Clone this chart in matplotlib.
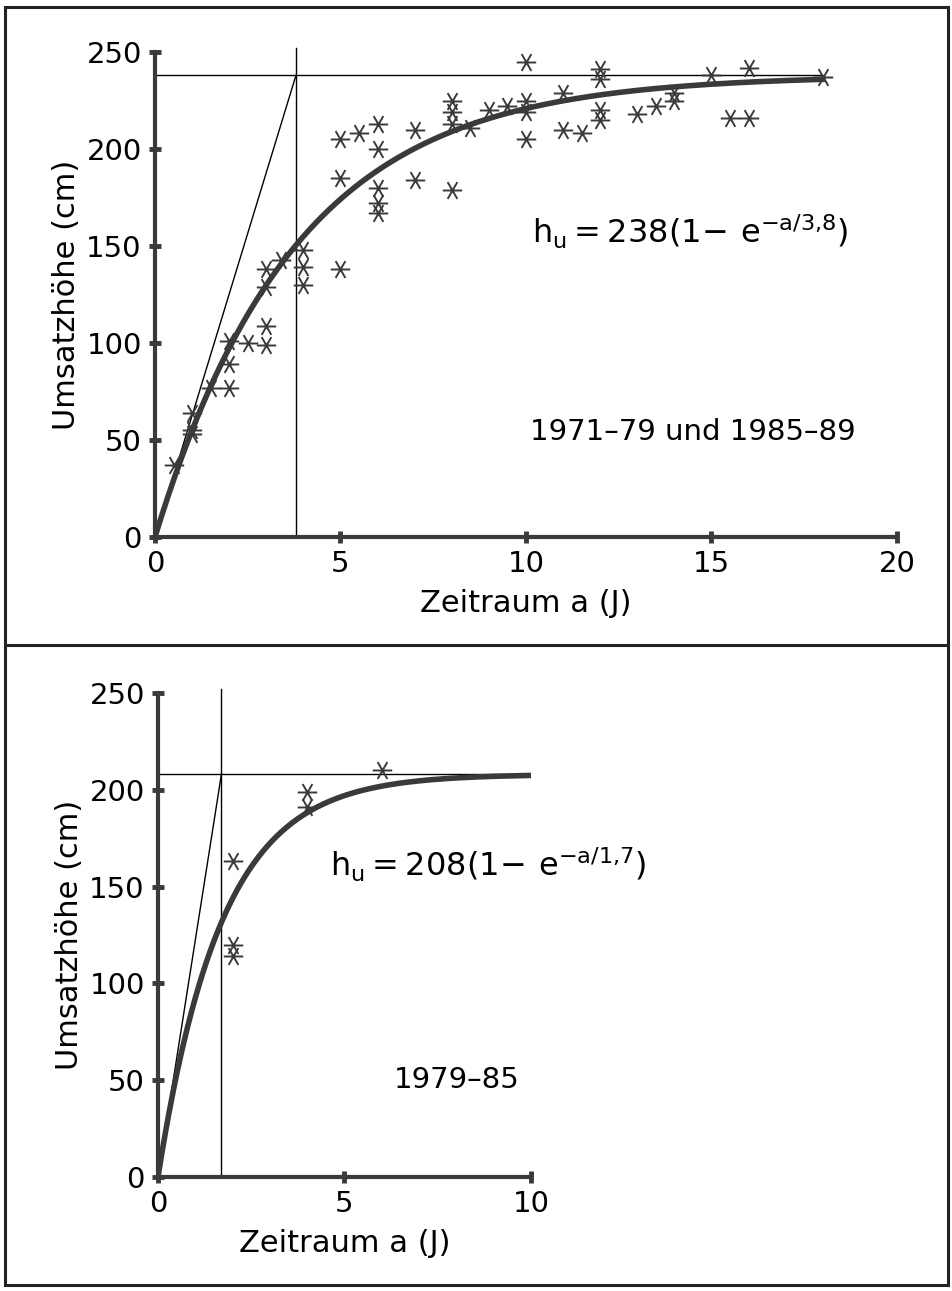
import numpy as np
import matplotlib.pyplot as plt
from matplotlib.lines import Line2D
from matplotlib.path import Path

# top panel: 1971-79 and 1985-89
a_top = [0.5, 1, 1, 1, 1.5, 2, 2, 2, 2.5, 3, 3, 3, 3, 3.4, 4, 4, 4, 5, 5, 5,
         5.5, 6, 6, 6, 6, 6, 7, 7, 8, 8, 8, 8, 8.5, 9, 9.5, 10, 10, 10, 10,
         11, 11, 11.5, 12, 12, 12, 12, 13, 13.5, 14, 14, 15, 15.5, 16, 16, 18]
h_top = [37, 53, 64, 55, 77, 77, 89, 101, 100, 99, 109, 129, 138, 143, 148, 139, 130, 138, 185, 205,
         208, 213, 200, 180, 172, 167, 210, 184, 179, 225, 219, 213, 211, 220, 222, 245, 225, 219, 205,
         229, 210, 208, 241, 236, 220, 215, 218, 222, 225, 229, 238, 216, 242, 216, 237]
hmax_top, tau_top, amax_top = 238, 3.8, 18

# bottom panel: 1979-85
a_bot = [2, 2, 2, 4, 4, 6]
h_bot = [163, 120, 114, 199, 191, 210]
hmax_bot, tau_bot, amax_bot = 208, 1.7, 10

plt.rcParams['font.family'] = 'DejaVu Sans'
plt.rcParams['mathtext.fontset'] = 'dejavusans'

fig = plt.figure(figsize=(9.53, 12.91), dpi=100)
W, H = 953, 1291

# asterisk with a horizontal bar and two diagonals (0, 60, 120 deg)
verts, codes = [], []
for ang in [0, 60, 120]:
    c, s = np.cos(np.radians(ang)), np.sin(np.radians(ang))
    verts += [(-c, -s), (c, s)]
    codes += [Path.MOVETO, Path.LINETO]
star = Path(verts, codes)
ink = '#3a3a3a'


def setup(ax, xmax, xticks):
    ax.set_xlim(0, xmax)
    ax.set_ylim(0, 250)
    for s in ['top', 'right']:
        ax.spines[s].set_visible(False)
    for s in ['left', 'bottom']:
        ax.spines[s].set_linewidth(3)
        ax.spines[s].set_color(ink)
    ax.set_xticks(xticks)
    ax.set_yticks([0, 50, 100, 150, 200, 250])
    ax.tick_params(direction='inout', length=9, width=3.5, color=ink,
                   labelsize=21, pad=5)
    ax.set_ylabel('Umsatzhöhe (cm)', fontsize=22, labelpad=4)
    ax.set_xlabel('Zeitraum a (J)', fontsize=22, labelpad=8)
    ax.patch.set_alpha(0)


def panel(ax, a, h, hmax, tau, amax):
    x = np.linspace(0, amax, 300)
    ax.plot(x, hmax * (1 - np.exp(-x / tau)), color=ink, lw=4, zorder=3)
    ax.plot([0, tau], [0, hmax], color='k', lw=1)
    ax.plot([0, amax], [hmax, hmax], color='k', lw=1)
    ax.plot([tau, tau], [0, 252], color='k', lw=1, clip_on=False)
    ax.plot(a, h, linestyle='none', marker=star, markersize=14, mew=1.4,
            color=ink, clip_on=False, zorder=4)


ax1 = fig.add_axes([155 / W, 1 - 537 / H, 742 / W, 485 / H])
setup(ax1, 20, [0, 5, 10, 15, 20])
panel(ax1, a_top, h_top, hmax_top, tau_top, amax_top)
ax1.text(10.15, 151, r'$\mathregular{h_u = 238(1\!-\,e^{-a/3{,}8})}$', fontsize=23, ha='left')
ax1.text(10.1, 50, '1971–79 und 1985–89', fontsize=21, ha='left')

ax2 = fig.add_axes([158 / W, 1 - 1177 / H, 373 / W, 484 / H])
setup(ax2, 10, [0, 5, 10])
panel(ax2, a_bot, h_bot, hmax_bot, tau_bot, amax_bot)
ax2.text(4.6, 155, r'$\mathregular{h_u = 208(1\!-\,e^{-a/1{,}7})}$', fontsize=23, ha='left')
ax2.text(8.0, 46, '1979–85', fontsize=21, ha='center')

# outer frame and divider
def fline(x0, y0, x1, y1, lw=2.2):
    fig.add_artist(Line2D([x0 / W, x1 / W], [1 - y0 / H, 1 - y1 / H],
                          color='#222222', lw=lw))

fline(5, 7, 948, 7)
fline(5, 1285, 948, 1285)
fline(5, 7, 5, 1285)
fline(948, 7, 948, 1285)
fline(5, 645, 948, 645)

fig.savefig('out.png', dpi=100, facecolor='white')
